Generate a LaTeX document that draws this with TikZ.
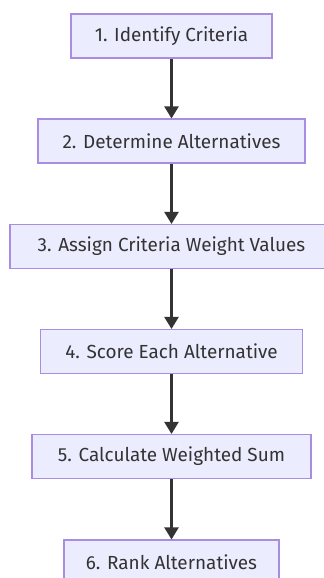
\documentclass[tikz,border=0pt]{standalone}
\usepackage{fontspec}
\setmainfont{Fira Sans}
\usetikzlibrary{arrows.meta, positioning}
\definecolor{lila}{HTML}{ECECFF}
\definecolor{morado}{HTML}{9370DB}
\definecolor{tinta}{HTML}{333333}
\tikzset{
  pasobox/.style={rectangle, draw=morado!80, fill=lila, line width=0.8pt, text=tinta,
                  font=\fontsize{14.2}{17}\selectfont, minimum height=33pt, inner sep=0pt,
                  text centered},
  arrow/.style={line width=1.7pt, -{Triangle[width=10.5pt, length=9pt]}, color=tinta}
}
\begin{document}
\begin{tikzpicture}[x=0.75pt, y=-0.75pt]
  \useasboundingbox (0,0) rectangle (324,578);
  \node (s1) [pasobox, minimum width=201*0.75pt] at (171.5,36) {1. Identify Criteria};
  \node (s2) [pasobox, minimum width=267*0.75pt] at (171.5,141) {2. Determine Alternatives};
  \node (s3) [pasobox, minimum width=323*0.75pt] at (171.5,246.5) {3. Assign Criteria Weight Values};
  \node (s4) [pasobox, minimum width=262*0.75pt] at (171.5,351.5) {4. Score Each Alternative};
  \node (s5) [pasobox, minimum width=279*0.75pt] at (171.5,456.5) {5. Calculate Weighted Sum};
  \node (s6) [pasobox, minimum width=215*0.75pt] at (171.5,562) {6. Rank Alternatives};
  \draw [arrow] (s1) -- (s2);
  \draw [arrow] (s2) -- (s3);
  \draw [arrow] (s3) -- (s4);
  \draw [arrow] (s4) -- (s5);
  \draw [arrow] (s5) -- (s6);
\end{tikzpicture}
\end{document}
